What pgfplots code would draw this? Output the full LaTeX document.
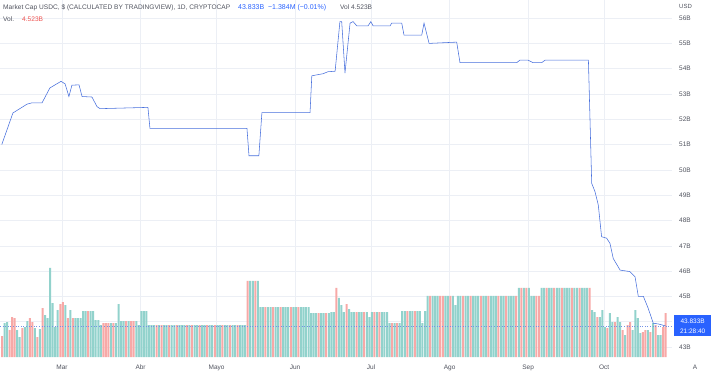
\documentclass[border=0pt]{standalone}
\usepackage{fontspec}
\setmainfont{Liberation Sans}
\usepackage{pgfplots}
\pgfplotsset{compat=1.18}
\usepackage{pgfplotstable}
\definecolor{tvblue}{RGB}{41,98,255}
\definecolor{linec}{RGB}{70,110,220}
\definecolor{volteal}{RGB}{146,210,204}
\definecolor{volred}{RGB}{247,169,167}
\definecolor{gridc}{RGB}{236,239,245}
\definecolor{txt}{RGB}{80,83,94}
\definecolor{tvred}{RGB}{239,83,80}

\pgfplotstableread{
d v
35.2 51.0
39.6 52.25
45.2 52.6
47.1 52.65
51.1 52.65
54.2 53.24
58.6 53.5
60.2 53.4
61.7 52.9
62.9 53.35
65.7 53.36
66.9 52.9
70.8 52.88
72.8 52.5
74.0 52.42
92.5 52.47
92.9 52.47
93.7 51.64
132.0 51.64
132.8 50.56
136.7 50.56
137.9 52.26
156.9 52.26
157.6 53.72
162.0 53.8
164.0 53.88
166.8 53.9
168.7 55.86
169.4 55.86
170.7 53.83
172.7 55.8
173.9 55.86
175.4 55.69
179.8 55.69
180.9 55.86
181.8 55.69
188.5 55.69
189.1 55.8
193.1 55.8
194.0 55.33
201.0 55.33
201.9 55.8
203.9 55.0
214.8 55.05
216.1 54.24
238.5 54.24
239.8 54.34
242.9 54.34
244.9 54.24
248.4 54.24
249.7 54.34
266.8 54.34
268.1 49.47
269.4 49.14
270.7 48.61
272.0 47.36
274.0 47.3
275.3 47.1
276.6 46.5
279.3 46.04
283.2 45.98
285.2 45.78
286.5 45.0
288.5 45.0
290.4 44.53
292.4 43.94
294.4 43.91
297.3 43.833
}\price

\pgfplotstableread{
i h
1 34
2 35
6 27
7 20
9 30
10 36
13 29
15 28
17 42
18 39
19 89
20 54
21 30
22 47
25 52
27 47
29 39
30 39
31 39
32 46
33 46
35 46
36 46
37 37
38 37
39 32
43 34
45 34
46 53
47 36
48 36
50 36
53 36
54 32
55 46
56 46
57 46
58 32
59 32
60 32
62 32
64 32
65 32
67 32
68 32
70 32
71 32
72 32
74 32
76 32
77 32
79 32
80 32
82 32
83 32
85 32
86 32
88 32
89 32
91 32
92 32
94 32
95 32
96 32
98 76
99 76
101 76
102 50
103 50
105 50
106 50
108 50
109 50
111 50
112 50
113 50
115 50
116 50
118 50
119 50
120 50
121 50
122 44
123 44
124 44
126 44
127 44
129 44
130 45
131 45
133 59
134 52
135 45
137 48
138 45
139 45
141 45
142 45
144 45
145 40
146 45
148 45
150 45
151 45
152 45
153 34
155 34
157 34
158 46
159 46
161 46
162 46
164 46
165 46
166 34
167 46
168 61
170 61
171 61
172 61
175 61
176 61
178 61
179 52
180 61
181 61
183 61
184 61
186 61
187 61
188 61
190 61
191 61
193 61
194 61
195 61
197 61
198 61
200 61
201 61
202 61
204 69
206 69
208 69
209 61
210 61
213 69
214 69
216 69
217 69
219 69
220 69
222 69
223 69
224 69
226 69
227 69
229 69
230 69
231 69
233 47
234 45
236 40
237 47
238 30
240 44
241 35
243 40
244 35
246 22
249 27
250 47
251 39
252 24
255 27
257 34
259 22
260 22
}\volT

\pgfplotstableread{
i h
0 21
3 27
4 40
5 39
8 29
11 39
12 35
14 20
16 49
23 53
24 55
26 39
28 39
34 46
40 34
41 34
42 34
44 34
49 36
51 36
52 36
61 32
63 32
66 32
69 32
73 32
75 32
78 32
81 32
84 32
87 32
90 32
93 32
97 76
100 76
104 50
107 50
110 50
114 50
117 50
125 44
128 44
132 69
136 53
140 45
143 45
147 45
149 45
154 34
156 34
160 46
163 46
169 61
173 61
174 61
177 61
182 61
185 61
189 61
192 61
196 61
199 61
203 61
205 69
207 69
211 61
212 61
215 69
218 69
221 69
225 69
228 69
232 69
235 40
239 29
242 35
245 27
247 32
248 35
253 25
254 27
256 25
258 32
261 30
262 44
}\volR

\begin{document}
\begin{tikzpicture}[x=1pt,y=1pt]
\useasboundingbox (0,0) rectangle (718,378);
% grid and labels
\begin{axis}[at={(0pt,21pt)}, anchor=south west, width=672pt, height=357pt, scale only axis,
  xmin=34.5, xmax=299.8, ymin=42.605, ymax=56.715,
  axis line style={draw=none}, major tick length=0pt,
  xtick={59,90,120,151,181,212,243,273},
  xticklabels={Mar,Abr,Mayo,Jun,Jul,Ago,Sep,Oct},
  ytick={43,44,45,46,47,48,49,50,51,52,53,54,55,56},
  yticklabels={43B,,45B,46B,47B,48B,49B,50B,51B,52B,53B,54B,55B,56B},
  yticklabel pos=right,
  grid=major, major grid style={gridc, line width=0.6pt},
  tick label style={font=\fontsize{6.5}{7}\selectfont, text=txt},
  xticklabel style={anchor=base, yshift=-12pt},
  yticklabel style={anchor=west, inner sep=0pt, xshift=7pt}]
\addplot[draw=none] coordinates {(100,50)};
\end{axis}
% volume
\begin{axis}[at={(0pt,21pt)}, anchor=south west, width=672pt, height=357pt, scale only axis,
  xmin=-0.79, xmax=264.5, ymin=0, ymax=357, hide axis, ybar]
\addplot[fill=volteal, draw=none, bar width=2pt, bar shift=0pt] table[x=i,y=h] {\volT};
\addplot[fill=volred, draw=none, bar width=2pt, bar shift=0pt] table[x=i,y=h] {\volR};
\end{axis}
% price line
\begin{axis}[at={(0pt,21pt)}, anchor=south west, width=672pt, height=357pt, scale only axis,
  xmin=34.5, xmax=299.8, ymin=42.605, ymax=56.715, hide axis, clip=false]
\addplot[linec!75, dotted, line width=0.6pt] coordinates {(34.5,43.833) (299.8,43.833)};
\addplot[linec, line width=0.55pt] table[x=d,y=v] {\price};
\node[fill=tvblue, text=white, font=\fontsize{6.5}{10}\selectfont, anchor=west, inner sep=1.5pt,
  align=center, minimum width=37pt, minimum height=21pt, xshift=2pt] at (axis cs:299.8,43.833) {43.833B\\21:28:40};
\end{axis}
\node[anchor=base west, inner sep=0pt, font=\fontsize{6.6}{7}\selectfont, text=txt] at (3,368.5)
  {Market Cap USDC, \$ (CALCULATED BY TRADINGVIEW), 1D, CRYPTOCAP};
\node[anchor=base west, inner sep=0pt, font=\fontsize{7}{7}\selectfont, text=tvblue] at (238,368.5)
  {43.833B \ −1.384M (−0.01\%)};
\node[anchor=base west, inner sep=0pt, font=\fontsize{6.6}{7}\selectfont, text=txt] at (340,368.5)
  {Vol 4.523B};
\node[anchor=base west, inner sep=0pt, font=\fontsize{6.6}{7}\selectfont, text=txt] at (3,356.5) {Vol.};
\node[anchor=base west, inner sep=0pt, font=\fontsize{6.6}{7}\selectfont, text=tvred] at (22,356.5) {4.523B};
\node[anchor=west, inner sep=0pt, font=\fontsize{6}{7}\selectfont, text=txt] at (679,372) {USD};
\node[inner sep=0pt, font=\fontsize{6.5}{7}\selectfont, text=txt] at (695,11) {A};
\end{tikzpicture}
\end{document}
